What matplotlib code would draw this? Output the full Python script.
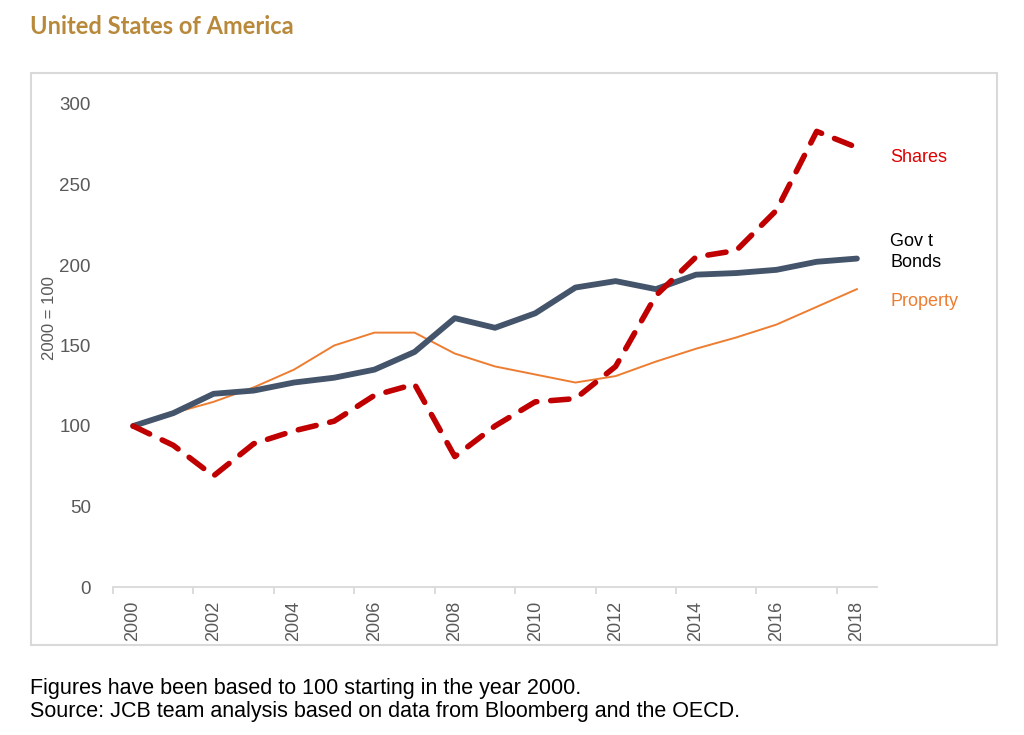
import numpy as np
import matplotlib.pyplot as plt
from matplotlib.patches import Rectangle

# Datos (2000 = 100)
years = list(range(2000, 2019))
shares = [100, 88, 69, 89, 97, 103, 119, 126, 81, 100, 115, 117, 137, 181, 205, 209, 234, 283, 273]
bonds = [100, 108, 120, 122, 127, 130, 135, 146, 167, 161, 170, 186, 190, 185, 194, 195, 197, 202, 204]
property_ = [100, 108, 115, 124, 135, 150, 158, 158, 145, 137, 132, 127, 131, 140, 148, 155, 163, 174, 185]

plt.rcParams['font.family'] = ['Liberation Sans', 'DejaVu Sans']

fig = plt.figure(figsize=(10.24, 7.35), dpi=100)

# Marco gris alrededor del gráfico
fig.patches.append(Rectangle((31 / 1024, 1 - 645 / 735), 966 / 1024, 572 / 735,
                             transform=fig.transFigure, fill=False,
                             edgecolor='#d9d9d9', linewidth=1.5))

ax = fig.add_axes([113 / 1024, 1 - 587 / 735, 764 / 1024, 483 / 735])
x = np.arange(len(years))

ax.plot(x, property_, color='#ed7d31', lw=1.4, zorder=2)
ax.plot(x, bonds, color='#44546a', lw=4.2, solid_capstyle='round', zorder=3)
ax.plot(x, shares, color='#c00000', lw=4.0, dashes=(3.3, 2.5),
        dash_capstyle='round', zorder=4)

ax.set_xlim(-0.5, len(years) - 0.5)
ax.set_ylim(0, 300)
ax.set_yticks(range(0, 301, 50))
ax.set_xticks(x[::2])
ax.set_xticklabels([str(y) for y in years[::2]], rotation=90)
ax.set_xticks(np.arange(-0.5, len(years), 2), minor=True)

for s in ['top', 'right', 'left']:
    ax.spines[s].set_visible(False)
ax.spines['bottom'].set_color('#d9d9d9')
ax.spines['bottom'].set_linewidth(1.3)

ax.tick_params(axis='y', length=0, pad=16, labelsize=13.5, labelcolor='#595959')
ax.tick_params(axis='x', which='major', length=0, pad=10, labelsize=13,
               labelcolor='#595959')
ax.tick_params(axis='x', which='minor', length=5, color='#d9d9d9', width=1.3)

ax.set_ylabel('2000 = 100', fontsize=12, color='#595959')
ax.yaxis.set_label_coords(-0.073, 0.557)

# Etiquetas de las series
fig.text(890 / 1024, 1 - 157 / 735, 'Shares', color='#e00000', fontsize=13,
         va='center', ha='left')
fig.text(890 / 1024, 1 - 252 / 735, 'Gov t\nBonds', color='black', fontsize=13,
         va='center', ha='left', linespacing=1.25)
fig.text(890 / 1024, 1 - 301 / 735, 'Property', color='#ed7d31', fontsize=13,
         va='center', ha='left')

# Título y notas
fig.text(30 / 1024, 1 - 26 / 735, 'United States of America', color='#b8893a',
         fontsize=17, fontweight='bold', family=['Lato', 'DejaVu Sans'],
         va='center', ha='left')
fig.text(30 / 1024, 1 - 700 / 735,
         'Figures have been based to 100 starting in the year 2000.\n'
         'Source: JCB team analysis based on data from Bloomberg and the OECD.',
         fontsize=15.5, color='black', va='center', ha='left', linespacing=1.1)

fig.savefig('out.png', dpi=100)
